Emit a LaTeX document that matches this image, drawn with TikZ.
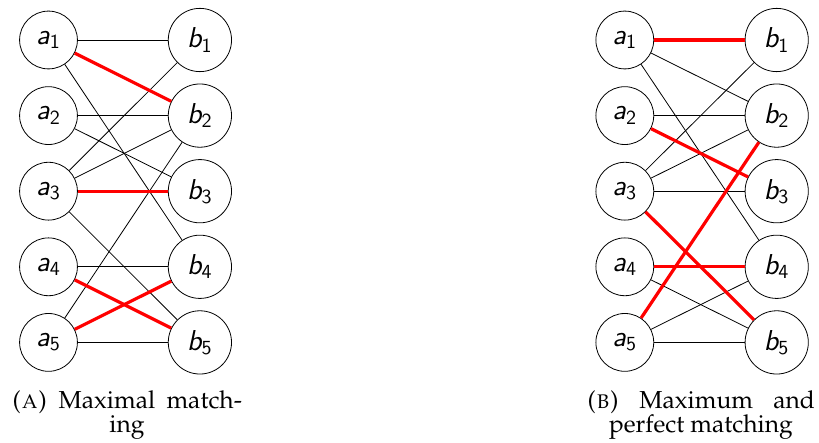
\documentclass[tikz,border=0pt]{standalone}
\usepackage[T1]{fontenc}
\usepackage{mathpazo}
\DeclareMathAlphabet{\mathssit}{OT1}{cmss}{m}{sl}
\DeclareMathAlphabet{\mathssup}{OT1}{cmss}{m}{n}
\usepackage{tikz}
\usetikzlibrary{positioning}
\tikzset{
vertex/.style={circle, draw, inner sep=5pt, font=\Large}, % the a_i and b_i nodes
matched/.style={draw=red, line width=1.6pt}, % edges in the matching
subcap/.style={anchor=base, align=center, font=\fontsize{12.3}{12}\selectfont}, % sub captions
}
\newcommand{\vlab}[2]{$\mathssit{#1}_{\mathssup{#2}}$}

\begin{document}
\begin{tikzpicture}[x=0.5pt, y=-0.5pt, node distance=37.8pt]
  \useasboundingbox (0,0) rectangle (819,443);

  % Maximal matching
  \node[vertex] (la1) at (48.5,40) {\vlab{a}{1}};
  \node[vertex, below of=la1] (la2) {\vlab{a}{2}};
  \node[vertex, below of=la2] (la3) {\vlab{a}{3}};
  \node[vertex, below of=la3] (la4) {\vlab{a}{4}};
  \node[vertex, below of=la4] (la5) {\vlab{a}{5}};
  \node[vertex, right of=la1, node distance=75.7pt] (lb1) {\vlab{b}{1}};
  \node[vertex, below of=lb1] (lb2) {\vlab{b}{2}};
  \node[vertex, below of=lb2] (lb3) {\vlab{b}{3}};
  \node[vertex, below of=lb3] (lb4) {\vlab{b}{4}};
  \node[vertex, below of=lb4] (lb5) {\vlab{b}{5}};

  \path
    (la1) edge (lb1)
    (la1) edge (lb4)
    (la2) edge (lb2)
    (la2) edge (lb3)
    (la3) edge (lb1)
    (la3) edge (lb2)
    (la3) edge (lb5)
    (la4) edge (lb4)
    (la5) edge (lb2)
    (la5) edge (lb5);
  \path
    (la1) edge[matched] (lb2)
    (la3) edge[matched] (lb3)
    (la4) edge[matched] (lb5)
    (la5) edge[matched] (lb4);

  % Maximum and perfect matching
  \node[vertex] (ra1) at (624.8,40) {\vlab{a}{1}};
  \node[vertex, below of=ra1] (ra2) {\vlab{a}{2}};
  \node[vertex, below of=ra2] (ra3) {\vlab{a}{3}};
  \node[vertex, below of=ra3] (ra4) {\vlab{a}{4}};
  \node[vertex, below of=ra4] (ra5) {\vlab{a}{5}};
  \node[vertex, right of=ra1, node distance=75.95pt] (rb1) {\vlab{b}{1}};
  \node[vertex, below of=rb1] (rb2) {\vlab{b}{2}};
  \node[vertex, below of=rb2] (rb3) {\vlab{b}{3}};
  \node[vertex, below of=rb3] (rb4) {\vlab{b}{4}};
  \node[vertex, below of=rb4] (rb5) {\vlab{b}{5}};

  \path
    (ra1) edge (rb2)
    (ra1) edge (rb4)
    (ra2) edge (rb2)
    (ra3) edge (rb1)
    (ra3) edge (rb2)
    (ra3) edge (rb3)
    (ra4) edge (rb5)
    (ra5) edge (rb4)
    (ra5) edge (rb5);
  \path
    (ra1) edge[matched] (rb1)
    (ra2) edge[matched] (rb3)
    (ra3) edge[matched] (rb5)
    (ra4) edge[matched] (rb4)
    (ra5) edge[matched] (rb2);

  % Captions
  \node[subcap] (capl) at (127,432) {\makebox[115pt][s]{\textsc{(a)} Maximal match-}\\ ing};
  \node[subcap] (capr) at (701,432) {\makebox[114pt][s]{\textsc{(b)} Maximum and}\\ perfect matching};
\end{tikzpicture}
\end{document}
